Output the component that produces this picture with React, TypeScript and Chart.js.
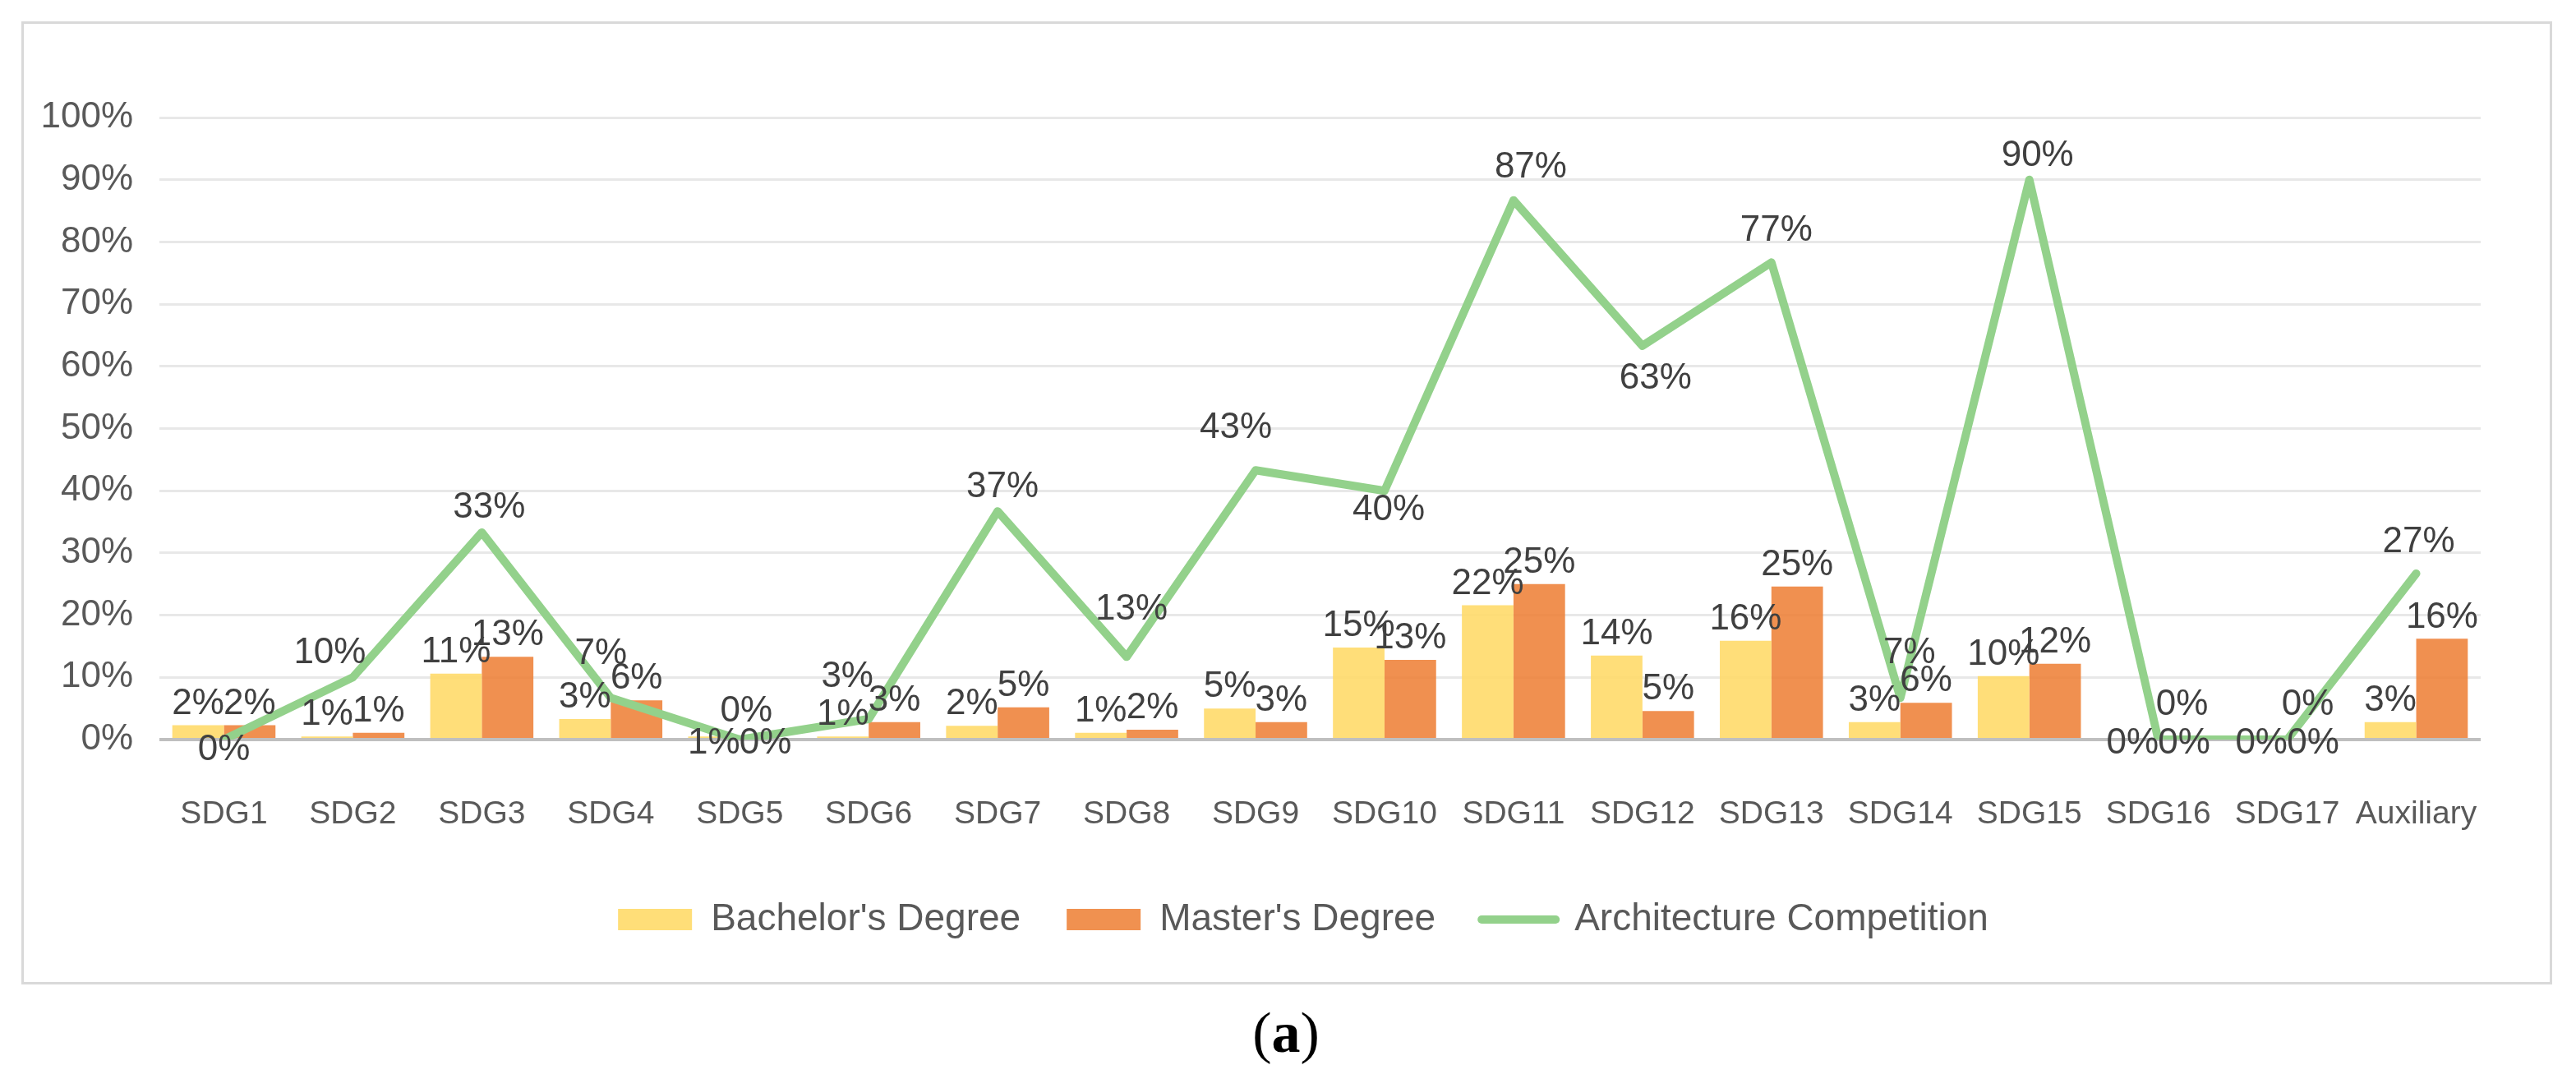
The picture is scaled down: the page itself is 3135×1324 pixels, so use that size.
import { useEffect, useRef } from "react";
import { Chart, registerables } from "chart.js";

Chart.register(...registerables);

const CATEGORIES = [
  "SDG1", "SDG2", "SDG3", "SDG4", "SDG5", "SDG6", "SDG7", "SDG8", "SDG9",
  "SDG10", "SDG11", "SDG12", "SDG13", "SDG14", "SDG15", "SDG16", "SDG17", "Auxiliary",
];
const BACHELOR = [2.3, 0.5, 10.6, 3.3, 0.5, 0.5, 2.2, 1.1, 5.0, 14.8, 21.6, 13.5, 15.9, 2.8, 10.2, 0, 0, 2.8];
const MASTER = [2.3, 1.1, 13.3, 6.3, 0, 2.8, 5.2, 1.6, 2.8, 12.8, 25.0, 4.6, 24.6, 5.9, 12.2, 0, 0, 16.2];
const COMPETITION = [0, 10, 33.3, 6.7, 0, 3.3, 36.7, 13.3, 43.3, 40, 86.7, 63.3, 76.7, 6.7, 90, 0, 0, 26.7];
const SERIES_NAMES = ["Bachelor's Degree", "Master's Degree", "Architecture Competition"];

// label nudges as placed in the original (px from the point)
const LINE_LABEL_DX = [0, -28, 9, -12, 8, -26, 6, 6, -24, 5, 21, 16, 6, 11, 10, 29, 25, 3];
const LINE_LABEL_DY = [13, -29, -30, -53, -34, -51, -29, -57, -51, 24, -40, 40, -39, -54, -29, -42, -42, -38];
// categories whose bar labels sit on the axis
const AXIS_LABEL_CATS = [4, 15, 16];

const YELLOW = "rgba(255, 217, 102, 0.88)";
const ORANGE = "rgba(237, 125, 49, 0.85)";
const YELLOW_SOLID = "#FFDE78";
const ORANGE_SOLID = "#F09150";
const GREEN = "#93D18B";
const FONT = "'Liberation Sans', Arial, sans-serif";

const valueLabels = {
  id: "valueLabels",
  afterDatasetsDraw(chart: any) {
    const { ctx } = chart;
    const zeroY = chart.scales.y.getPixelForValue(0);
    ctx.save();
    ctx.font = `44px ${FONT}`;
    ctx.fillStyle = "#404040";
    ctx.textAlign = "center";
    ctx.textBaseline = "middle";
    chart.data.datasets.forEach((ds: any, di: number) => {
      const meta = chart.getDatasetMeta(di);
      meta.data.forEach((el: any, i: number) => {
        const text = Math.round(ds.data[i]) + "%";
        let x = el.x;
        let y;
        if (ds.type === "line") {
          x += LINE_LABEL_DX[i];
          y = el.y + LINE_LABEL_DY[i];
        } else if (AXIS_LABEL_CATS.includes(i)) {
          y = zeroY + 5;
        } else {
          y = el.y - 26;
        }
        ctx.fillText(text, x, y);
      });
    });
    ctx.restore();
  },
};

// the legend in the original sits a little right of the canvas centre
const legendShift = {
  id: "legendShift",
  afterLayout(chart: any) {
    if (chart.legend) {
      chart.legend.left += 62;
      chart.legend.right += 62;
    }
  },
};

export default function App() {
  const canvasRef = useRef<HTMLCanvasElement>(null);

  useEffect(() => {
    if (!canvasRef.current) return;
    const chart = new Chart(canvasRef.current, {
      type: "bar",
      data: {
        labels: CATEGORIES,
        datasets: [
          {
            type: "bar",
            label: SERIES_NAMES[0],
            data: BACHELOR,
            backgroundColor: YELLOW,
            borderWidth: 0,
            barPercentage: 1,
            categoryPercentage: 0.8,
            order: 1,
          },
          {
            type: "bar",
            label: SERIES_NAMES[1],
            data: MASTER,
            backgroundColor: ORANGE,
            borderWidth: 0,
            barPercentage: 1,
            categoryPercentage: 0.8,
            order: 1,
          },
          {
            type: "line",
            label: SERIES_NAMES[2],
            data: COMPETITION,
            borderColor: GREEN,
            backgroundColor: GREEN,
            borderWidth: 10,
            borderJoinStyle: "round",
            borderCapStyle: "round",
            pointRadius: 0,
            tension: 0,
            order: 0,
          },
        ] as any,
      },
      options: {
        animation: false,
        responsive: true,
        maintainAspectRatio: false,
        layout: { padding: { left: 0, top: 114, right: 84, bottom: 43 } },
        plugins: {
          tooltip: { enabled: false },
          legend: {
            position: "bottom",
            labels: {
              color: "#595959",
              font: { size: 46, family: FONT },
              usePointStyle: true,
              pointStyleWidth: 90,
              boxHeight: 26,
              padding: 56,
              generateLabels: (c: any) => {
                const items = Chart.defaults.plugins.legend.labels.generateLabels(c);
                return items
                  .sort((a: any, b: any) => a.datasetIndex - b.datasetIndex)
                  .map((it: any) => {
                    if (it.datasetIndex === 2) {
                      return { ...it, pointStyle: "line", lineWidth: 10, strokeStyle: GREEN, lineCap: "round" };
                    }
                    const fill = it.datasetIndex === 0 ? YELLOW_SOLID : ORANGE_SOLID;
                    return { ...it, pointStyle: "rect", lineWidth: 0, fillStyle: fill, strokeStyle: fill };
                  });
              },
            },
          },
        },
        scales: {
          x: {
            grid: { display: false },
            border: { display: false },
            ticks: { color: "#595959", font: { size: 39, family: FONT }, padding: 60, maxRotation: 0, autoSkip: false },
            afterFit: (s: any) => { s.height = 140; },
          },
          y: {
            min: 0,
            max: 100,
            border: { display: false },
            grid: {
              drawTicks: false,
              color: (c: any) => (c.tick && c.tick.value === 0 ? "#BFBFBF" : "#E8E8E8"),
              lineWidth: (c: any) => (c.tick && c.tick.value === 0 ? 4 : 3),
            },
            ticks: {
              stepSize: 10,
              padding: 32,
              color: "#595959",
              font: { size: 44, family: FONT },
              callback: (v: any) => v + "%",
            },
            afterFit: (s: any) => { s.width = 165; },
          },
        },
      },
      plugins: [valueLabels, legendShift],
    });
    return () => chart.destroy();
  }, []);

  return (
    <div style={{ position: "absolute", left: 0, top: 0, width: 3135, height: 1324, background: "#fff" }}>
      <div
        style={{
          position: "absolute",
          left: 26,
          top: 26,
          width: 3080,
          height: 1172,
          border: "3px solid #D9D9D9",
          boxSizing: "border-box",
        }}
      >
        <div style={{ position: "relative", width: "100%", height: "100%" }}>
          <canvas ref={canvasRef} />
        </div>
      </div>
      <div
        style={{
          position: "absolute",
          left: 0,
          top: 1222,
          width: 3130,
          textAlign: "center",
          fontFamily: "'Liberation Serif', 'Times New Roman', serif",
          fontSize: 70,
          lineHeight: "70px",
          color: "#000",
        }}
      >
        (<b>a</b>)
      </div>
    </div>
  );
}
